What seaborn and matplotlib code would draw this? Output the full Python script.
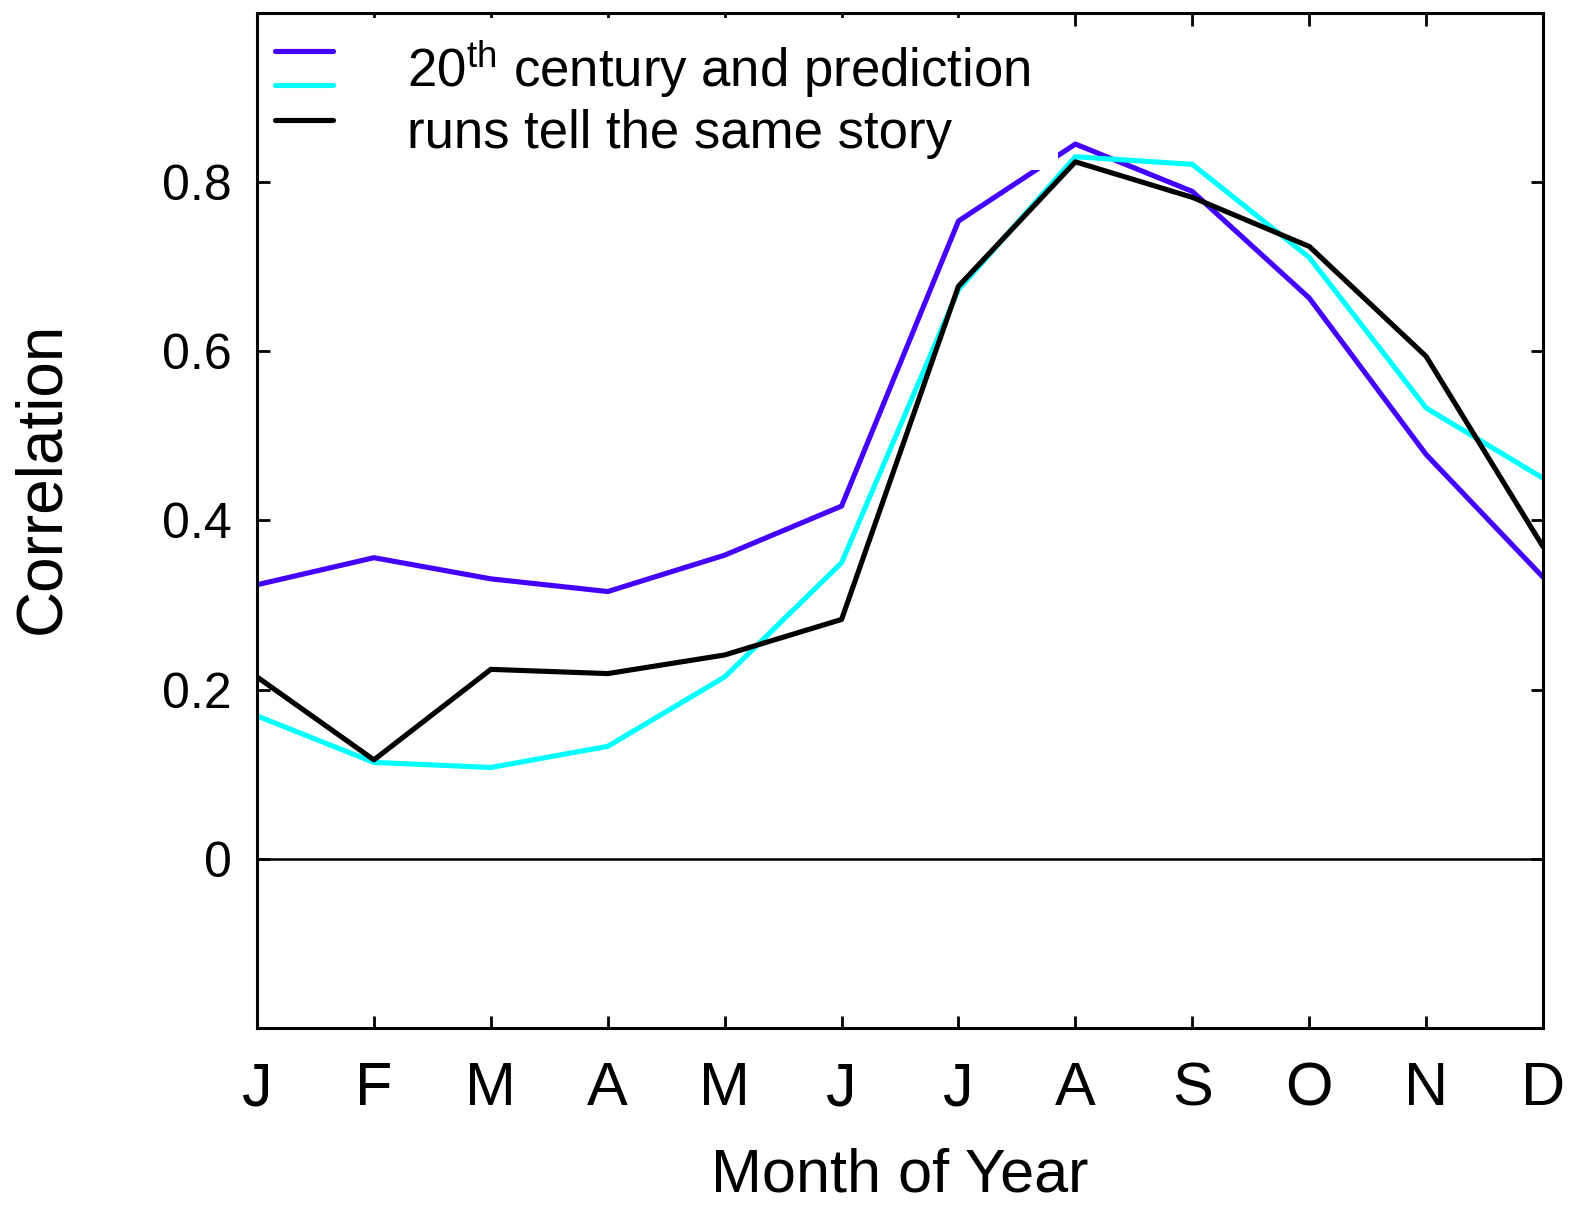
import numpy as np
import pandas as pd
import seaborn as sns
import matplotlib
matplotlib.use("Agg")
import matplotlib.pyplot as plt
from matplotlib.lines import Line2D
from matplotlib.patches import Rectangle

months = ["J", "F", "M", "A", "M", "J", "J", "A", "S", "O", "N", "D"]
series_names = ["20th century", "prediction", "all runs"]
blue_vals = [0.324, 0.356, 0.331, 0.316, 0.359, 0.417, 0.754, 0.845, 0.789, 0.663, 0.478, 0.333]
cyan_vals = [0.169, 0.114, 0.108, 0.133, 0.215, 0.350, 0.673, 0.830, 0.821, 0.711, 0.533, 0.450]
black_vals = [0.215, 0.117, 0.224, 0.219, 0.241, 0.283, 0.677, 0.824, 0.782, 0.724, 0.594, 0.369]
colors = ["#4400FF", "#00FFFF", "#000000"]
ytick_vals = [0, 0.2, 0.4, 0.6, 0.8]
ytick_labels = ["0", "0.2", "0.4", "0.6", "0.8"]
legend_line1 = "20$^{\\mathrm{th}}$ century and prediction"
legend_line2 = "runs tell the same story"

sns.set_theme(style="white")
plt.rcParams["font.family"] = ["Liberation Sans", "DejaVu Sans"]
plt.rcParams["mathtext.fontset"] = "custom"
plt.rcParams["mathtext.rm"] = "Liberation Sans"
plt.rcParams["mathtext.it"] = "Liberation Sans:italic"
plt.rcParams["text.color"] = "black"
plt.rcParams["axes.labelcolor"] = "black"

x = np.arange(len(months))
df = pd.concat([
    pd.DataFrame({"x": x, "value": v, "series": n})
    for n, v in zip(series_names, [blue_vals, cyan_vals, black_vals])
])

fig = plt.figure(figsize=(15.71, 12.10), dpi=100)
ax = fig.add_axes([0.1636, 0.1504, 0.8186, 0.8389])

sns.lineplot(data=df, x="x", y="value", hue="series", hue_order=series_names,
             palette=colors, linewidth=3.7, legend=False, ax=ax, zorder=2)

ax.axhline(0, color="black", linewidth=1.8, zorder=1.5)

ax.set_xlim(0, len(months) - 1)
ax.set_ylim(-0.2, 1.0)
ax.set_xticks(x)
ax.set_xticklabels(months)
ax.set_yticks(ytick_vals)
ax.set_yticklabels(ytick_labels)

ax.tick_params(axis="x", direction="in", length=9, width=2, top=True, bottom=True,
               labelsize=44, pad=24, colors="black")
ax.tick_params(axis="y", direction="in", length=9, width=2, left=True, right=True,
               labelsize=36, pad=18, colors="black")
for s in ax.spines.values():
    s.set_visible(True)
    s.set_linewidth(2.2)
    s.set_color("black")

ax.set_xlabel("Month of Year", fontsize=44, labelpad=21)
ax.set_ylabel("Correlation", fontsize=46)
ax.yaxis.set_label_coords(-0.144, 0.542)

# legend background
ax.add_patch(Rectangle((0.004, 0.845), 0.619, 0.15, transform=ax.transAxes,
                       facecolor="white", edgecolor="none", zorder=2.5))

handles = [Line2D([], [], color=c, linewidth=3.7) for c in colors]
leg = ax.legend(handles, [" ", " ", " "], loc="upper left",
                bbox_to_anchor=(0.014, 0.9734), frameon=False, fontsize=10,
                handlelength=4.18, handleheight=3.45, labelspacing=0.0,
                borderpad=0, borderaxespad=0, handletextpad=0.2)

ax.text(0.1166, 0.927, legend_line1, transform=ax.transAxes, fontsize=38,
        va="baseline", ha="left", zorder=4)
ax.text(0.1166, 0.867, legend_line2, transform=ax.transAxes, fontsize=38,
        va="baseline", ha="left", zorder=4)

fig.savefig("out.png", dpi=100, facecolor="white")
